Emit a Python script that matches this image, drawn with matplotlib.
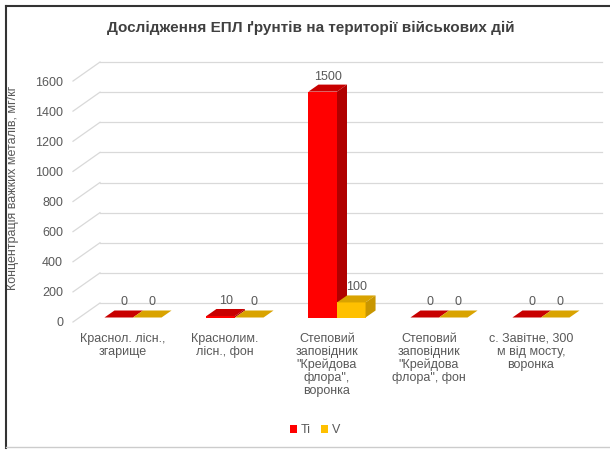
import numpy as np
import matplotlib
matplotlib.use('Agg')
from matplotlib import pyplot as plt
from matplotlib.patches import Polygon
from matplotlib.lines import Line2D

plt.rcParams['font.family'] = ['Liberation Sans', 'DejaVu Sans']

title = 'Дослідження ЕПЛ ґрунтів на території військових дій'
ylabel = 'Концентрація важких металів, мг/кг'
categories = ['Краснол. лісн.,\nзгарище',
              'Краснолим.\nлісн., фон',
              'Степовий\nзаповідник\n"Крейдова\nфлора",\nворонка',
              'Степовий\nзаповідник\n"Крейдова\nфлора", фон',
              'с. Завітне, 300\nм від мосту,\nворонка']
series_names = ['Ti', 'V']
ti_values = [0, 10, 1500, 0, 0]
v_values = [0, 0, 100, 0, 0]
y_ticks = [0, 200, 400, 600, 800, 1000, 1200, 1400, 1600]

text_col = '#595959'
grid_col = '#d9d9d9'
face_cols = ['#ff0000', '#ffc000']
side_cols = ['#b00000', '#c89600']
top_cols = ['#c80000', '#d9a300']

# geometry (pixels -> data)
W, H = 610, 450
px_per_cat = 102.0
px_per_val = 0.1506
x0_px = 133.0   # front centre of first bar pair
y0_px = 322.0   # value 0 on front plane
ax_left_px, ax_right_px = 70, 605
ax_top_px, ax_bot_px = 50, 326

fig = plt.figure(figsize=(W / 100, H / 100), dpi=100, facecolor='w')
ax = fig.add_axes([ax_left_px / W, 1 - ax_bot_px / H,
                   (ax_right_px - ax_left_px) / W, (ax_bot_px - ax_top_px) / H])
ax.set_xlim((ax_left_px - x0_px) / px_per_cat, (ax_right_px - x0_px) / px_per_cat)
ax.set_ylim((y0_px - ax_bot_px) / px_per_val, (y0_px - ax_top_px) / px_per_val)
for s in ax.spines.values():
    s.set_visible(False)

# back wall gridlines with oblique edges
wall_dx = 27 / px_per_cat
wall_dy = 19 / px_per_val
x_front = (73 - x0_px) / px_per_cat
x_back_end = (602 - x0_px) / px_per_cat
for t in y_ticks:
    ax.plot([x_front, x_front + wall_dx], [t, t + wall_dy], color=grid_col, lw=0.9, zorder=1)
    ax.plot([x_front + wall_dx, x_back_end], [t + wall_dy, t + wall_dy], color=grid_col, lw=0.9, zorder=1)

# 3d-like bars, standing a little behind the front plane
bw = 0.28
bdx = 10 / px_per_cat
bdy = 7 / px_per_val
base = 4.5 / px_per_val
x = np.arange(len(categories))
for k, vals in enumerate([ti_values, v_values]):
    left = x - bw + k * bw
    bars = ax.bar(left, vals, width=bw, bottom=base, align='edge', color=face_cols[k],
                  zorder=3 + k, label=series_names[k], linewidth=0)
    for b, v in zip(bars, vals):
        xl, xr = b.get_x(), b.get_x() + b.get_width()
        top = base + v
        ax.add_patch(Polygon([(xl, top), (xr, top), (xr + bdx, top + bdy), (xl + bdx, top + bdy)],
                             closed=True, facecolor=top_cols[k], edgecolor='none', zorder=3 + k))
        if v > 0:
            ax.add_patch(Polygon([(xr, base), (xr + bdx, base + bdy), (xr + bdx, top + bdy), (xr, top)],
                                 closed=True, facecolor=side_cols[k], edgecolor='none', zorder=3 + k))
        ax.annotate(str(v), (xl + bw / 2 + bdx / 2, top + bdy), xytext=(0, 1.5),
                    textcoords='offset points', ha='center', va='bottom',
                    fontsize=9, color=text_col, zorder=6)

ax.set_yticks(y_ticks)
ax.set_yticklabels([str(t) for t in y_ticks])
ax.tick_params(axis='y', length=0, pad=5, labelsize=9, labelcolor=text_col)
ax.set_xticks(x - 0.1)
ax.set_xticklabels(categories, linespacing=1.1)
ax.tick_params(axis='x', length=0, pad=5, labelsize=9, labelcolor=text_col)
ax.set_ylabel(ylabel, fontsize=9, color=text_col)
ax.yaxis.set_label_coords((19 - ax_left_px) / (ax_right_px - ax_left_px),
                          (ax_bot_px - 188) / (ax_bot_px - ax_top_px))

fig.text(311 / W, 1 - 28 / H, title, ha='center', va='center', fontsize=11,
         fontweight='bold', color='#404040')

fig.legend(loc='center', bbox_to_anchor=(315 / W, 1 - 430 / H), ncol=2, frameon=False,
           handlelength=0.6, handleheight=0.6, handletextpad=0.3, columnspacing=0.8,
           fontsize=9, labelcolor=text_col)

# picture frame
fig.add_artist(Line2D([6 / W, 6 / W], [1 - 6 / H, 1 - 448 / H], color='#333333', lw=1.5))
fig.add_artist(Line2D([6 / W, 1], [1 - 6 / H, 1 - 6 / H], color='#333333', lw=1.5))
fig.add_artist(Line2D([6 / W, 1], [1 - 447 / H, 1 - 447 / H], color='#cccccc', lw=1.0))

fig.savefig('out.png', dpi=100, facecolor='w')
plt.close()
